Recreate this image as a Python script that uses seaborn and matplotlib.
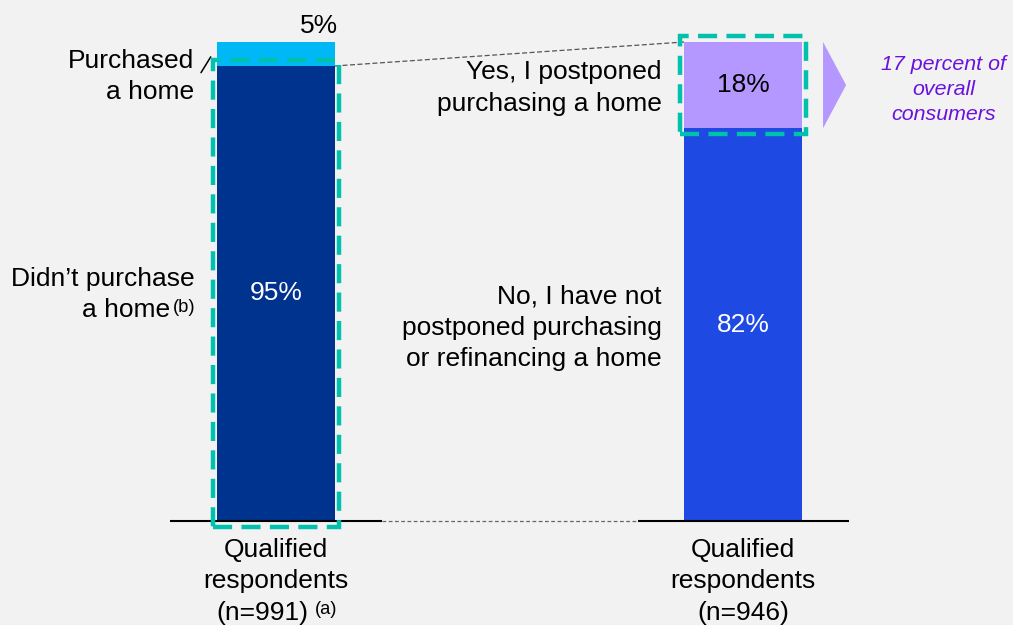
import matplotlib
matplotlib.use("Agg")
import matplotlib.pyplot as plt
from matplotlib.patches import Rectangle, Polygon
import pandas as pd
import seaborn as sns

# ---- data -------------------------------------------------------------
panels = ["n=991", "n=946"]
upper_share = [5, 18]
lower_share = [95, 82]
upper_text = [["Purchased", "a home"],
              ["Yes, I postponed", "purchasing a home"]]
lower_text = [["Didn’t purchase", "a home"],
              ["No, I have not", "postponed purchasing", "or refinancing a home"]]
lower_notes = ["(b)", ""]
axis_text = [["Qualified", "respondents", "(n=991)"],
             ["Qualified", "respondents", "(n=946)"]]
axis_notes = ["(a)", ""]
callout_text = ["17 percent of", "overall", "consumers"]

# ---- style ------------------------------------------------------------
BG = "#F2F2F2"
UPPER_COLORS = ["#00B8F5", "#B497FF"]
LOWER_COLORS = ["#00338D", "#1E49E2"]
TEAL = "#00C0AE"
PURPLE = "#6A12DC"

sns.set_theme(style="white")
plt.rcParams["font.family"] = ["Liberation Sans", "DejaVu Sans"]
FS = 19
NOTE_FS = 13.2

df = pd.DataFrame({
    "panel": panels,
    "total": [u + l for u, l in zip(upper_share, lower_share)],
    "lower": lower_share,
})

fig = plt.figure(figsize=(10.13, 6.25), dpi=100, facecolor=BG)
ax = fig.add_axes([0, 0, 1, 1])
ax.set_facecolor(BG)

BAR_W = 0.2527
sns.barplot(data=df, x="panel", y="total", hue="panel", palette=UPPER_COLORS,
            width=BAR_W, saturation=1, legend=False, linewidth=0, ax=ax)
sns.barplot(data=df, x="panel", y="lower", hue="panel", palette=LOWER_COLORS,
            width=BAR_W, saturation=1, legend=False, linewidth=0, ax=ax)

ax.set_xlim(-0.591, 1.578)
ax.set_ylim(-21.71, 108.77)
ax.axis("off")

half = BAR_W / 2
LINE = 6.58  # baseline-to-baseline spacing for stacked label lines


def stack(x, y0, lines, step=LINE, **kw):
    for i, s in enumerate(lines):
        ax.text(x, y0 - i * step, s, va="baseline", **kw)


# baselines: solid under each bar, dashed between them
for c in range(len(panels)):
    ax.plot([c - 0.226, c + 0.226], [0, 0], color="black", lw=1.5,
            solid_capstyle="butt", zorder=3)
ax.plot([0.226, 1 - 0.226], [0, 0], color="#666666", lw=0.9,
        linestyle=(0, (3, 2)), zorder=3)

# thin dashed connector between the two bars
ax.plot([0 + half, 1 - half], [lower_share[0], df["total"][1]],
        color="#555555", lw=0.9, linestyle=(0, (4, 2)), zorder=2)

# dashed teal highlight boxes
PADX, PADY = 0.0088, 1.2
box_style = dict(fill=False, edgecolor=TEAL, lw=3.2,
                 linestyle=(0, (4.3, 2.1)), zorder=4)
ax.add_patch(Rectangle((0 - half - PADX, 0 - PADY), BAR_W + 2 * PADX,
                       lower_share[0] + 2 * PADY, **box_style))
ax.add_patch(Rectangle((1 - half - PADX, lower_share[1] - PADY), BAR_W + 2 * PADX,
                       upper_share[1] + 2 * PADY, **box_style))

# value labels
for c in range(len(panels)):
    ax.text(c, lower_share[c] / 2, f"{lower_share[c]}%", ha="center",
            va="center", color="white", fontsize=FS, zorder=5)
ax.text(0 + half + 0.006, df["total"][0] + 1.9, f"{upper_share[0]}%",
        ha="right", va="baseline", color="black", fontsize=FS)
ax.text(1, lower_share[1] + upper_share[1] / 2, f"{upper_share[1]}%",
        ha="center", va="center", color="black", fontsize=FS, zorder=5)

# segment descriptions
LBL_X = -0.1745
stack(0 + LBL_X, 94.6, upper_text[0], ha="right", fontsize=FS, color="black")
stack(1 + LBL_X, 92.2, upper_text[1], ha="right", fontsize=FS, color="black")

stack(0 + LBL_X, 49.1, lower_text[0][:1], ha="right", fontsize=FS, color="black")
ax.text(0 + LBL_X - 0.0515, 49.1 - LINE, lower_text[0][1], ha="right",
        va="baseline", fontsize=FS, color="black")
ax.text(0 + LBL_X + 0.003, 49.1 - LINE + 1.1, lower_notes[0], ha="right",
        va="baseline", fontsize=NOTE_FS, color="black")
stack(1 + LBL_X, 45.5, lower_text[1], ha="right", fontsize=FS, color="black")

# leader stroke from the "Purchased" label toward the thin segment
ax.plot([-0.1606, -0.1398], [93.6, 96.9], color="black", lw=1.1)

# category labels under the baseline
for c in range(len(panels)):
    stack(c, -7.5, axis_text[c][:2], ha="center", fontsize=FS, color="black")
    y3 = -7.5 - 2 * LINE
    if axis_notes[c]:
        ax.text(c + 0.0685, y3, axis_text[c][2], ha="right", va="baseline",
                fontsize=FS, color="black")
        ax.text(c + 0.0835, y3 + 1.35, axis_notes[c], ha="left", va="baseline",
                fontsize=NOTE_FS, color="black")
    else:
        ax.text(c, y3, axis_text[c][2], ha="center", va="baseline",
                fontsize=FS, color="black")

# arrow pointing from the postponed segment to the callout
y_lo, y_hi = lower_share[1], df["total"][1]
ax.add_patch(Polygon([(1 + 0.1713, y_lo), (1 + 0.1713, y_hi),
                      (1 + 0.2206, (y_lo + y_hi) / 2)],
                     closed=True, facecolor=UPPER_COLORS[1], edgecolor="none"))
stack(1.429, 94.15, callout_text, step=5.22, ha="center", fontsize=15.4,
      style="italic", color=PURPLE)

fig.savefig("out.png", dpi=100, facecolor=BG)
